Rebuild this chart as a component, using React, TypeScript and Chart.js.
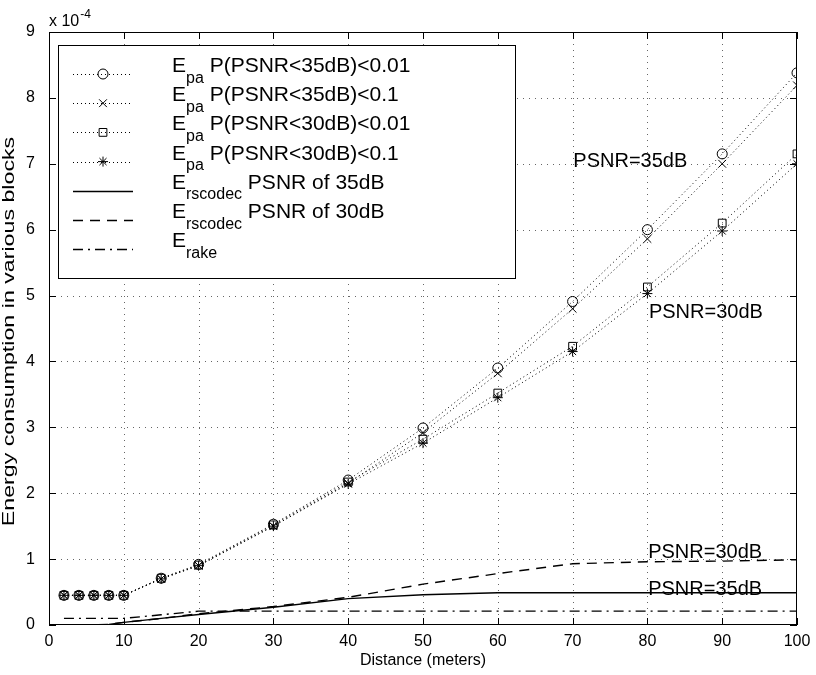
import { useEffect, useRef } from 'react';
import { Chart, registerables } from 'chart.js';

Chart.register(...registerables);

const FONT = '"Liberation Sans", Arial, Helvetica, sans-serif';

// Distances (meters) at which every curve is evaluated
const distances = [2, 4, 6, 8, 10, 15, 20, 30, 40, 50, 60, 70, 80, 90, 100];

// Energy values, in units of 1e-4
const epa35Strict = [0.45, 0.45, 0.45, 0.45, 0.45, 0.71, 0.92, 1.53, 2.2, 2.99, 3.9, 4.91, 6.0, 7.15, 8.38];
const epa35Loose = [0.45, 0.45, 0.45, 0.45, 0.45, 0.7, 0.9, 1.5, 2.15, 2.92, 3.82, 4.8, 5.86, 7.0, 8.19];
const epa30Strict = [0.45, 0.45, 0.45, 0.45, 0.45, 0.71, 0.91, 1.52, 2.17, 2.82, 3.52, 4.23, 5.13, 6.1, 7.15];
const epa30Loose = [0.45, 0.45, 0.45, 0.45, 0.45, 0.7, 0.9, 1.5, 2.14, 2.76, 3.45, 4.15, 5.03, 5.98, 7.0];
const rscodec35 = [0, 0, 0, 0.01, 0.04, 0.1, 0.16, 0.27, 0.4, 0.46, 0.49, 0.49, 0.49, 0.49, 0.49];
const rscodec30 = [0, 0, 0, 0.01, 0.04, 0.1, 0.17, 0.28, 0.42, 0.62, 0.78, 0.93, 0.96, 0.97, 0.99];
const rake = [0.1, 0.1, 0.1, 0.1, 0.1, 0.155, 0.21, 0.21, 0.21, 0.21, 0.21, 0.21, 0.21, 0.21, 0.21];

// Axis ranges and tick steps
const xRange = [0, 100];
const xStep = 10;
const yRange = [0, 9];
const yStep = 1;
const yExponent = '-4';

// Legend text: main letter, subscript, trailing description
const legendMain = ['E', 'E', 'E', 'E', 'E', 'E', 'E'];
const legendSub = ['pa', 'pa', 'pa', 'pa', 'rscodec', 'rscodec', 'rake'];
const legendRest = [
  'P(PSNR<35dB)<0.01',
  'P(PSNR<35dB)<0.1',
  'P(PSNR<30dB)<0.01',
  'P(PSNR<30dB)<0.1',
  'PSNR of 35dB',
  'PSNR of 30dB',
  '',
];

// Curve labels placed in data coordinates (left edge, baseline)
const noteTexts = ['PSNR=35dB', 'PSNR=30dB', 'PSNR=30dB', 'PSNR=35dB'];
const noteX = [70.1, 80.2, 80.1, 80.1];
const noteY = [6.95, 4.66, 1.02, 0.456];

const seriesValues = [epa35Strict, epa35Loose, epa30Strict, epa30Loose, rscodec35, rscodec30, rake];
const seriesStyle = [
  { dash: [1, 3], width: 1, point: 'circle', r: 5 },
  { dash: [1, 3], width: 1, point: 'crossRot', r: 5.5 },
  { dash: [1, 3], width: 1, point: 'rect', r: 5.5 },
  { dash: [1, 3], width: 1, point: 'star', r: 5 },
  { dash: [], width: 1.4, point: '', r: 0 },
  { dash: [10, 7], width: 1.4, point: '', r: 0 },
  { dash: [10, 5, 2, 5], width: 1.4, point: '', r: 0 },
];

function drawMarker(ctx: CanvasRenderingContext2D, style: string, cx: number, cy: number, r: number) {
  ctx.beginPath();
  const d = r * Math.SQRT1_2;
  if (style === 'circle') {
    ctx.arc(cx, cy, r, 0, Math.PI * 2);
  } else if (style === 'crossRot') {
    ctx.moveTo(cx - d, cy - d); ctx.lineTo(cx + d, cy + d);
    ctx.moveTo(cx - d, cy + d); ctx.lineTo(cx + d, cy - d);
  } else if (style === 'rect') {
    ctx.rect(cx - d, cy - d, 2 * d, 2 * d);
  } else if (style === 'star') {
    ctx.moveTo(cx - d, cy - d); ctx.lineTo(cx + d, cy + d);
    ctx.moveTo(cx - d, cy + d); ctx.lineTo(cx + d, cy - d);
    ctx.moveTo(cx, cy - r); ctx.lineTo(cx, cy + r);
    ctx.moveTo(cx - r, cy); ctx.lineTo(cx + r, cy);
  }
  ctx.stroke();
}

const axesDecor = {
  id: 'axesDecor',
  beforeDatasetsDraw(chart: any) {
    const { ctx, chartArea: a, scales } = chart;
    const xs = scales.x;
    const ys = scales.y;
    ctx.save();
    // dotted grid
    ctx.strokeStyle = 'rgba(0,0,0,0.6)';
    ctx.lineWidth = 1;
    ctx.setLineDash([1, 5]);
    xs.ticks.forEach((t: any) => {
      if (t.value <= xs.min || t.value >= xs.max) return;
      const px = Math.round(xs.getPixelForValue(t.value)) + 0.5;
      ctx.beginPath(); ctx.moveTo(px, a.top); ctx.lineTo(px, a.bottom); ctx.stroke();
    });
    ys.ticks.forEach((t: any) => {
      if (t.value <= ys.min || t.value >= ys.max) return;
      const py = Math.round(ys.getPixelForValue(t.value)) + 0.5;
      ctx.beginPath(); ctx.moveTo(a.left, py); ctx.lineTo(a.right, py); ctx.stroke();
    });
    ctx.setLineDash([]);
    // curve labels
    ctx.fillStyle = '#000';
    ctx.font = `20px ${FONT}`;
    ctx.textAlign = 'left';
    ctx.textBaseline = 'alphabetic';
    noteTexts.forEach((txt, i) => {
      ctx.fillText(txt, xs.getPixelForValue(noteX[i]), ys.getPixelForValue(noteY[i]));
    });
    ctx.restore();
  },
  afterDatasetsDraw(chart: any) {
    const { ctx, chartArea: a, scales } = chart;
    const xs = scales.x;
    const ys = scales.y;
    ctx.save();
    ctx.strokeStyle = '#000';
    ctx.fillStyle = '#000';
    ctx.lineWidth = 1;
    ctx.setLineDash([]);
    // frame
    ctx.strokeRect(a.left + 0.5, a.top + 0.5, a.right - a.left - 1, a.bottom - a.top - 1);
    // inward ticks on all four sides
    const tl = 7;
    xs.ticks.forEach((t: any) => {
      const px = Math.round(xs.getPixelForValue(t.value)) + 0.5;
      ctx.beginPath();
      ctx.moveTo(px, a.bottom); ctx.lineTo(px, a.bottom - tl);
      ctx.moveTo(px, a.top); ctx.lineTo(px, a.top + tl);
      ctx.stroke();
    });
    ys.ticks.forEach((t: any) => {
      const py = Math.round(ys.getPixelForValue(t.value)) + 0.5;
      ctx.beginPath();
      ctx.moveTo(a.left, py); ctx.lineTo(a.left + tl, py);
      ctx.moveTo(a.right, py); ctx.lineTo(a.right - tl, py);
      ctx.stroke();
    });

    // exponent label above the y axis
    ctx.textAlign = 'left';
    ctx.textBaseline = 'alphabetic';
    ctx.font = `16px ${FONT}`;
    ctx.fillText('x 10', a.left, a.top - 6);
    const w10 = ctx.measureText('x 10').width;
    ctx.font = `12px ${FONT}`;
    ctx.fillText(yExponent, a.left + w10 + 1, a.top - 14);

    // axis titles
    ctx.font = `16px ${FONT}`;
    ctx.textAlign = 'center';
    ctx.textBaseline = 'middle';
    ctx.fillText('Distance (meters)', (a.left + a.right) / 2, 661);
    ctx.save();
    ctx.translate(10, (a.top + a.bottom) / 2 + 3);
    ctx.rotate(-Math.PI / 2);
    ctx.scale(1.45, 1);
    ctx.fillText('Energy consumption in various blocks', 0, 0);
    ctx.restore();

    // legend box
    const bx = a.left + 9;
    const by = a.top + 13;
    const bw = 457;
    const bh = 233;
    ctx.fillStyle = '#fff';
    ctx.fillRect(bx, by, bw, bh);
    ctx.strokeRect(bx + 0.5, by + 0.5, bw, bh);
    ctx.fillStyle = '#000';
    ctx.textAlign = 'left';
    ctx.textBaseline = 'alphabetic';
    legendMain.forEach((main, i) => {
      const st = seriesStyle[i];
      const sy = by + 29 + 29.2 * i;
      const x0 = bx + 15;
      const x1 = bx + 75;
      ctx.strokeStyle = '#000';
      ctx.lineWidth = st.width;
      ctx.setLineDash(st.dash);
      ctx.beginPath(); ctx.moveTo(x0, Math.round(sy) + 0.5); ctx.lineTo(x1, Math.round(sy) + 0.5); ctx.stroke();
      ctx.setLineDash([]);
      ctx.lineWidth = 1;
      if (st.point) drawMarker(ctx, st.point, (x0 + x1) / 2, sy, st.r);
      const base = sy - 2;
      let tx = bx + 114;
      ctx.font = `21px ${FONT}`;
      ctx.fillText(main, tx, base);
      tx += ctx.measureText(main).width;
      ctx.font = `16px ${FONT}`;
      ctx.fillText(legendSub[i], tx, base + 10.5);
      tx += ctx.measureText(legendSub[i]).width;
      ctx.font = `21px ${FONT}`;
      tx += ctx.measureText(' ').width;
      if (legendRest[i]) ctx.fillText(legendRest[i], tx, base);
    });
    ctx.restore();
  },
};

export default function App() {
  const canvasRef = useRef<HTMLCanvasElement | null>(null);

  useEffect(() => {
    const canvas = canvasRef.current;
    if (!canvas) return;
    const datasets = seriesValues.map((vals, i) => {
      const st = seriesStyle[i];
      return {
        label: legendMain[i] + legendSub[i] + ' ' + legendRest[i],
        data: distances.map((d, k) => ({ x: d, y: vals[k] })),
        borderColor: '#000',
        borderWidth: st.width,
        borderDash: st.dash,
        pointStyle: st.point || 'circle',
        pointRadius: st.r,
        pointHoverRadius: st.r,
        pointBorderColor: '#000',
        pointBackgroundColor: 'rgba(0,0,0,0)',
        pointBorderWidth: 1,
        fill: false,
        tension: 0,
      };
    });
    const chart = new Chart(canvas, {
      type: 'line',
      data: { datasets },
      options: {
        animation: false,
        responsive: false,
        devicePixelRatio: 1,
        events: [],
        layout: { padding: { left: 0, right: 19, top: 32, bottom: 0 } },
        plugins: { legend: { display: false }, tooltip: { enabled: false } },
        scales: {
          x: {
            type: 'linear',
            min: xRange[0],
            max: xRange[1],
            grid: { display: false },
            border: { display: false },
            ticks: {
              stepSize: xStep,
              color: '#000',
              padding: -1,
              maxRotation: 0,
              font: { family: FONT, size: 16 },
            },
            afterFit: (s: any) => { s.height = 50; },
          },
          y: {
            type: 'linear',
            min: yRange[0],
            max: yRange[1],
            grid: { display: false },
            border: { display: false },
            ticks: {
              stepSize: yStep,
              color: '#000',
              padding: 6,
              font: { family: FONT, size: 16 },
              callback: (v: any) => String(Math.round(Number(v))),
            },
            afterFit: (s: any) => { s.width = 49; },
          },
        },
      },
      plugins: [axesDecor],
    } as any);
    return () => chart.destroy();
  }, []);

  return (
    <div style={{ position: 'absolute', left: 0, top: 0, width: 816, height: 675, background: '#fff' }}>
      <canvas ref={canvasRef} width={816} height={675} />
    </div>
  );
}
